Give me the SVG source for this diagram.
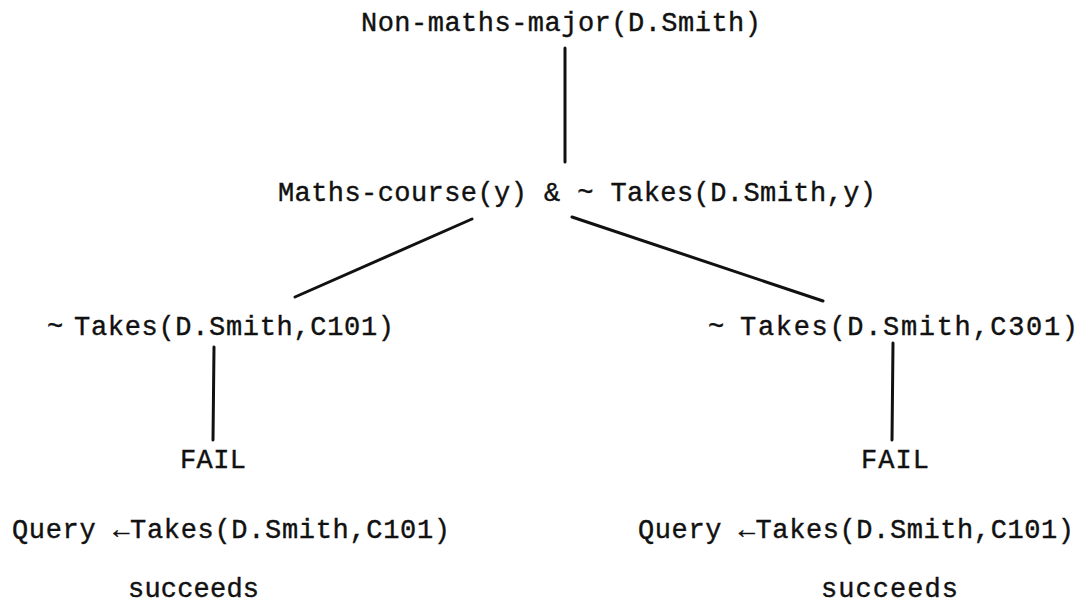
<svg xmlns="http://www.w3.org/2000/svg" width="1081" height="605" viewBox="0 0 1081 605">
<style>
text{font-family:"Liberation Mono","Courier New",monospace;font-size:27px;fill:#111;stroke:#111;stroke-width:0.4;}
.c{stroke:#111;stroke-width:3;stroke-linecap:round;fill:none;}
</style>
<rect width="1081" height="605" fill="#fff"/>
<g id="connectors">
<line class="c" x1="565" y1="48" x2="565" y2="162"/>
<line class="c" x1="472" y1="219" x2="295" y2="297"/>
<line class="c" x1="572" y1="217" x2="823" y2="301"/>
<line class="c" x1="214" y1="347" x2="213" y2="440"/>
<line class="c" x1="893" y1="343" x2="892" y2="440"/>
</g>
<g id="root"><text x="361" y="31" textLength="400" lengthAdjust="spacing">Non-maths-major(D.Smith)</text></g>
<g id="goal"><text x="278" y="201" textLength="598" lengthAdjust="spacing">Maths-course(y) &amp; ~ Takes(D.Smith,y)</text></g>
<g id="left"><text y="335"><tspan x="47">~</tspan><tspan x="74" textLength="320" lengthAdjust="spacing">Takes(D.Smith,C101)</tspan></text></g>
<g id="right"><text y="335"><tspan x="708">~ </tspan><tspan x="740" textLength="338" lengthAdjust="spacing">Takes(D.Smith,C301)</tspan></text></g>
<g id="fail-left"><text x="180" y="468" textLength="66" lengthAdjust="spacing">FAIL</text></g>
<g id="fail-right"><text x="861" y="468" textLength="68" lengthAdjust="spacing">FAIL</text></g>
<g id="query-left"><text x="12" y="538" textLength="438" lengthAdjust="spacing">Query ←Takes(D.Smith,C101)</text></g>
<g id="query-right"><text x="638" y="538" textLength="436" lengthAdjust="spacing">Query ←Takes(D.Smith,C101)</text></g>
<g id="succ-left"><text x="128" y="597" textLength="131" lengthAdjust="spacing">succeeds</text></g>
<g id="succ-right"><text x="821" y="597" textLength="137" lengthAdjust="spacing">succeeds</text></g>
</svg>
